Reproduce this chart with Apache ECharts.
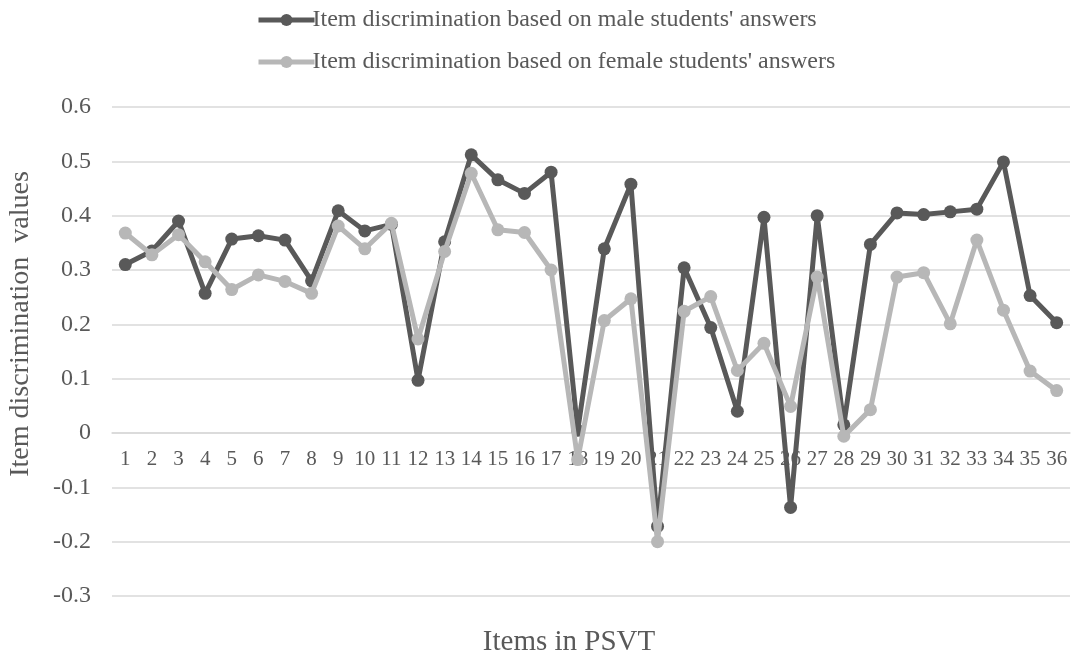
<!DOCTYPE html>
<html><head><meta charset="utf-8">
<script src="https://cdn.jsdelivr.net/npm/echarts@6/dist/echarts.min.js"></script>
<style>html,body{margin:0;padding:0;background:#fff}#c{width:1072px;height:655px}</style>
</head><body><div id="c"></div>
<script>
const categories = ['1','2','3','4','5','6','7','8','9','10','11','12','13','14','15','16','17','18','19','20','21','22','23','24','25','26','27','28','29','30','31','32','33','34','35','36'];
const maleValues = [0.31,0.335,0.39,0.257,0.357,0.363,0.355,0.28,0.409,0.372,0.384,0.097,0.352,0.512,0.466,0.441,0.48,0.005,0.339,0.458,-0.172,0.304,0.194,0.04,0.397,-0.137,0.4,0.015,0.347,0.405,0.402,0.407,0.412,0.499,0.253,0.203];
const femaleValues = [0.368,0.328,0.365,0.315,0.264,0.291,0.279,0.257,0.381,0.339,0.386,0.173,0.334,0.478,0.374,0.369,0.3,-0.049,0.207,0.247,-0.2,0.224,0.251,0.115,0.165,0.049,0.287,-0.006,0.043,0.287,0.295,0.201,0.355,0.226,0.114,0.078];
const maleName = "Item discrimination based on male students' answers";
const femaleName = "Item discrimination based on female students' answers";
const yTitle = 'Item discrimination  values';
const xTitle = 'Items in PSVT';
const yMin = -0.3, yMax = 0.6, yStep = 0.1;

const font = '"Liberation Serif", "Times New Roman", serif';
const W = 1072, H = 655;
const grid = {left:112, right:2, top:107, bottom:59};
const gridH = H - grid.top - grid.bottom;
// move the category axis (with its labels) up to the zero line
const zeroOffset = -gridH * (0 - yMin) / (yMax - yMin);

const chart = echarts.init(document.getElementById('c'), null, {renderer:'canvas'});
chart.setOption({
  animation:false,
  backgroundColor:'#fff',
  textStyle:{fontFamily:font},
  graphic:[
    {type:'text', x:21, y:324, rotation:Math.PI/2,
      style:{text:yTitle, font:'28px '+font, fill:'#595959', align:'center', verticalAlign:'middle'}},
    {type:'text', x:569, y:642,
      style:{text:xTitle, font:'29px '+font, fill:'#595959', align:'center', verticalAlign:'middle'}}
  ],
  legend:{
    orient:'vertical', left:251, top:3, itemGap:18, itemWidth:56, itemHeight:15,
    lineStyle:{width:5},
    textStyle:{fontFamily:font, fontSize:24, color:'#595959', padding:[0,0,0,-7]},
    data:[maleName, femaleName]
  },
  grid:grid,
  xAxis:{
    type:'category', data:categories, boundaryGap:true, offset:zeroOffset,
    axisLine:{show:true, onZero:false, lineStyle:{color:'#d9d9d9', width:1.5}},
    axisTick:{show:false},
    axisLabel:{fontFamily:font, fontSize:21, color:'#595959', margin:16, interval:0},
    splitLine:{show:false}
  },
  yAxis:{
    type:'value', min:yMin, max:yMax, interval:yStep,
    axisLine:{show:false}, axisTick:{show:false},
    axisLabel:{fontFamily:font, fontSize:24, color:'#595959', margin:21,
      formatter:v=>{const r=Math.round(v*10)/10; return r===0?'0':String(r);}},
    splitLine:{lineStyle:{color:'#d9d9d9', width:1.5}}
  },
  series:[
    {name:maleName, type:'line', data:maleValues, symbol:'circle', symbolSize:13,
      lineStyle:{color:'#595959', width:5}, itemStyle:{color:'#595959'}, z:3},
    {name:femaleName, type:'line', data:femaleValues, symbol:'circle', symbolSize:13,
      lineStyle:{color:'#b7b7b7', width:5}, itemStyle:{color:'#b7b7b7'}, z:4}
  ]
});
</script></body></html>
